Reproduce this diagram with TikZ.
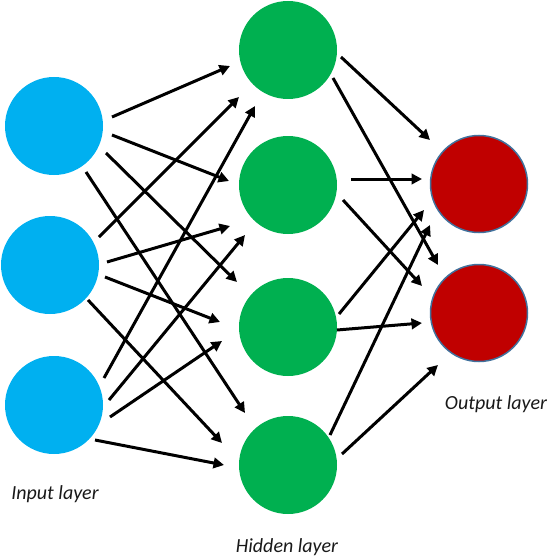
\documentclass[tikz,border=0pt]{standalone}
\usepackage{fontspec}
\setmainfont{Carlito}
\usetikzlibrary{arrows.meta,calc}
\definecolor{inblue}{HTML}{00B0F0}
\definecolor{hidgreen}{HTML}{00B050}
\definecolor{outred}{HTML}{C00000}
\definecolor{outline}{HTML}{41719C}
\begin{document}
\begin{tikzpicture}[x=1pt,y=-1pt,
  neuron/.style={circle,minimum size=98pt,inner sep=0pt},
  inneuron/.style={neuron,fill=inblue},
  hidneuron/.style={neuron,fill=hidgreen},
  outneuron/.style={neuron,fill=outred,draw=outline,line width=1.5pt,minimum size=97pt},
  arr/.style={line width=3pt,-{Triangle[length=10.5pt,width=10.5pt]}},
  lbl/.style={font=\fontsize{20}{24}\selectfont\itshape,text=black!90}]
\useasboundingbox (0,0) rectangle (550,559);
\node[inneuron] (i1) at (54,126) {};
\node[inneuron] (i2) at (50,265) {};
\node[inneuron] (i3) at (54,405) {};
\node[hidneuron] (h1) at (288,50) {};
\node[hidneuron] (h2) at (288,185) {};
\node[hidneuron] (h3) at (288,327) {};
\node[hidneuron] (h4) at (288,465) {};
\node[outneuron] (o1) at (479,184) {};
\node[outneuron] (o2) at (479,313) {};
% input -> hidden
\draw[arr] ($(i1)+(58,-9)$) -- ($(h1)+(-58,16)$);
\draw[arr] ($(i1)+(58,9)$) -- ($(h2)+(-59,-4)$);
\draw[arr] ($(i1)+(52,27)$) -- ($(h3)+(-51,-45)$);
\draw[arr] ($(i1)+(32,46)$) -- ($(h4)+(-43,-52)$);
\draw[arr] ($(i2)+(49,-28)$) -- ($(h1)+(-49,47)$);
\draw[arr] ($(i2)+(57,-3)$) -- ($(h2)+(-58,41)$);
\draw[arr] ($(i2)+(55,12)$) -- ($(h3)+(-68,-5)$);
\draw[arr] ($(i2)+(38,35)$) -- ($(h4)+(-66,-22)$);
\draw[arr] ($(i3)+(50,-27)$) -- ($(h1)+(-33,56)$);
\draw[arr] ($(i3)+(55,-5)$) -- ($(h2)+(-43,50)$);
\draw[arr] ($(i3)+(56,12)$) -- ($(h3)+(-66,14)$);
\draw[arr] ($(i3)+(41,35)$) -- ($(h4)+(-64,0)$);
% hidden -> output
\draw[arr] ($(h1)+(53,7)$) -- ($(o1)+(-49,-44)$);
\draw[arr] ($(h1)+(45,28)$) -- ($(o2)+(-41,-48)$);
\draw[arr] ($(h2)+(63,-6)$) -- ($(o1)+(-57,-5)$);
\draw[arr] ($(h2)+(55,15)$) -- ($(o2)+(-57,-27)$);
\draw[arr] ($(h3)+(51,-13)$) -- ($(o1)+(-55,26)$);
\draw[arr] ($(h3)+(49,3)$) -- ($(o2)+(-57,10)$);
\draw[arr] ($(h4)+(42,-30)$) -- ($(o1)+(-49,41)$);
\draw[arr] ($(h4)+(54,-11)$) -- ($(o2)+(-41,52)$);
% labels
\node[lbl] (li) at (55,494) {Input layer};
\node[lbl] (lh) at (287,547) {Hidden layer};
\node[lbl] (lo) at (496,404) {Output layer};
\end{tikzpicture}
\end{document}
